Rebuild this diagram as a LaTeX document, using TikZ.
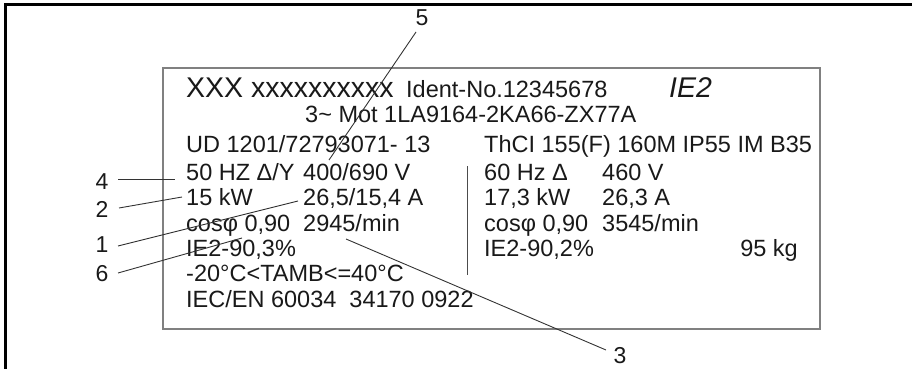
\documentclass[tikz,border=0pt]{standalone}
\usepackage{fontspec}
\setmainfont{Liberation Sans}
\begin{document}
\begin{tikzpicture}[x=1pt,y=-1pt,
  txt/.style={anchor=base west,inner sep=0pt,text=black!90,font=\fontsize{23.5}{26}\selectfont},
  big/.style={txt,font=\fontsize{28.5}{30}\selectfont},
  lbl/.style={inner sep=0pt,text=black!90,font=\fontsize{23}{26}\selectfont},
  leader/.style={draw=black!80,line width=0.9pt}]
\useasboundingbox (0,0) rectangle (912,369);
\draw[line width=3pt] (5,369) -- (5,5) -- (912,5);
\draw[draw=black!50,line width=2pt] (163,68) rectangle (820,329);
\draw[draw=black!70,line width=1pt] (467,166) -- (467,275);
% row 1
\node[big] (r1a) at (186,97) {XXX xxxxxxxxxx};
\node[txt] (r1b) at (406,97) {Ident-No.12345678};
\node[big,font=\fontsize{28.5}{30}\itshape] (r1c) at (669,97) {IE2};
% row 2
\node[txt] (r2) at (305,122) {3\textasciitilde{} Mot 1LA9164-2KA66-ZX77A};
% row 3
\node[txt] (r3a) at (186,152) {UD 1201/72793071- 13};
\node[txt] (r3b) at (484,152) {ThCI 155(F) 160M IP55 IM B35};
% row 4
\node[txt] (r4a) at (186,180) {50 HZ Δ/Y};
\node[txt] (r4b) at (303,180) {400/690 V};
\node[txt] (r4c) at (484,180) {60 Hz Δ};
\node[txt] (r4d) at (602,180) {460 V};
% row 5
\node[txt] (r5a) at (186,205) {15 kW};
\node[txt] (r5b) at (303,205) {26,5/15,4 A};
\node[txt] (r5c) at (484,205) {17,3 kW};
\node[txt] (r5d) at (602,205) {26,3 A};
% row 6
\node[txt] (r6a) at (186,231) {cosφ 0,90};
\node[txt] (r6b) at (303,231) {2945/min};
\node[txt] (r6c) at (484,231) {cosφ 0,90};
\node[txt] (r6d) at (602,231) {3545/min};
% row 7
\node[txt] (r7a) at (186,256) {IE2-90,3\%};
\node[txt] (r7b) at (484,256) {IE2-90,2\%};
\node[txt,anchor=base east] (r7c) at (798,256) {95 kg};
% row 8, 9
\node[txt] (r8) at (186,281) {-20°C<TAMB<=40°C};
\node[txt] (r9) at (186,307) {IEC/EN 60034\ \ 34170 0922};
% labels
\node[lbl] (l5) at (422,18) {5};
\node[lbl] (l4) at (102,182) {4};
\node[lbl] (l2) at (102,209) {2};
\node[lbl] (l1) at (102,245) {1};
\node[lbl] (l6) at (102,274) {6};
\node[lbl] (l3) at (620,356) {3};
\coordinate (e5) at (329,160);
\coordinate (e4) at (175,179);
\coordinate (e2) at (182,197);
\coordinate (e1) at (298,201);
\coordinate (e6) at (242,238);
\coordinate (e3) at (346,239);
\coordinate (s5) at (416,32);
\coordinate (s4) at (118,179);
\coordinate (s2) at (119,208);
\coordinate (s1) at (118,246);
\coordinate (s6) at (118,273);
\coordinate (s3) at (606,350);
\draw[leader] (s5) -- (e5);
\draw[leader] (s4) -- (e4);
\draw[leader] (s2) -- (e2);
\draw[leader] (s1) -- (e1);
\draw[leader] (s6) -- (e6);
\draw[leader] (s3) -- (e3);
\end{tikzpicture}
\end{document}
